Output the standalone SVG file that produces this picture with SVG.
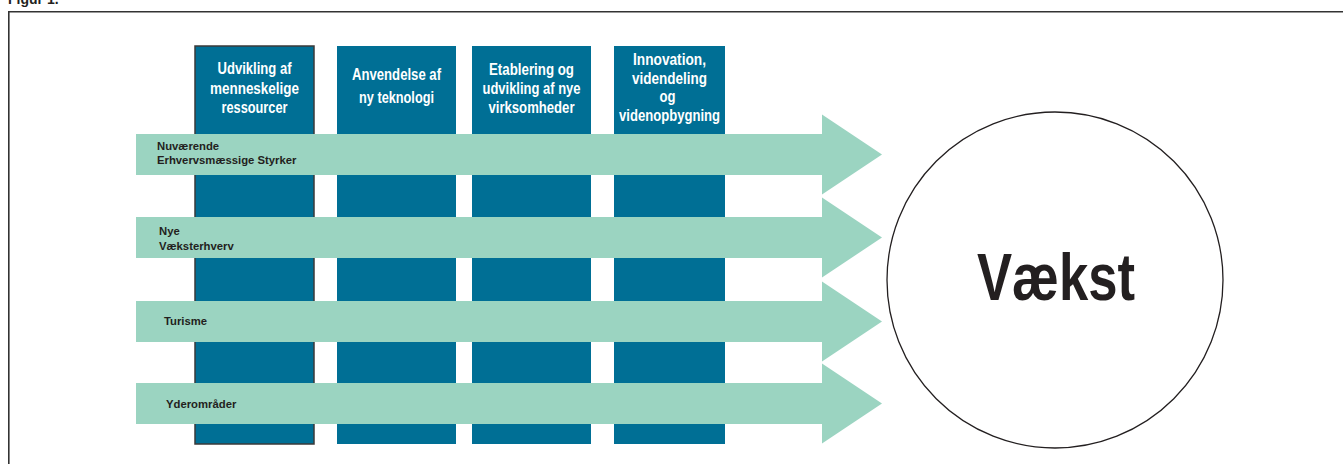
<svg xmlns="http://www.w3.org/2000/svg" width="1343" height="464" viewBox="0 0 1343 464">
<style>
.col{fill:#006f95}
.coltxt{font-family:"Liberation Sans Narrow","Liberation Sans",sans-serif;font-size:16px;font-weight:bold;fill:#ffffff;text-anchor:middle}
.arrow{fill:#9bd4c1}
.lbl{font-family:"Liberation Sans",Arial,sans-serif;font-size:11.3px;font-weight:bold;fill:#231f20}
.frame{fill:none;stroke:#333333;stroke-width:1.6}
</style>
<rect width="1343" height="464" fill="#ffffff"/>
<text x="8" y="4" style="font-family:'Liberation Sans',Arial,sans-serif;font-size:14px;font-weight:bold;fill:#231f20">Figur 1.</text>
<path class="frame" d="M8.8,470 V11.8 H1350"/>

<g id="col1">
<rect class="col" x="195" y="46" width="119" height="398" style="stroke:#3a3a3a;stroke-width:1.5"/>
<text class="coltxt"><tspan x="254.5" y="74" textLength="74" lengthAdjust="spacingAndGlyphs">Udvikling af</tspan><tspan x="254.5" y="93.5" textLength="89" lengthAdjust="spacingAndGlyphs">menneskelige</tspan><tspan x="254.5" y="113" textLength="66" lengthAdjust="spacingAndGlyphs">ressourcer</tspan></text>
</g>
<g id="col2">
<rect class="col" x="337" y="46" width="119" height="398"/>
<text class="coltxt"><tspan x="396.5" y="79.5" textLength="89" lengthAdjust="spacingAndGlyphs">Anvendelse af</tspan><tspan x="396.5" y="103" textLength="75" lengthAdjust="spacingAndGlyphs">ny teknologi</tspan></text>
</g>
<g id="col3">
<rect class="col" x="472" y="46" width="119" height="398"/>
<text class="coltxt"><tspan x="531.5" y="75" textLength="85" lengthAdjust="spacingAndGlyphs">Etablering og</tspan><tspan x="531.5" y="94" textLength="98" lengthAdjust="spacingAndGlyphs">udvikling af nye</tspan><tspan x="531.5" y="113" textLength="86" lengthAdjust="spacingAndGlyphs">virksomheder</tspan></text>
</g>
<g id="col4">
<rect class="col" x="614" y="46" width="111" height="398"/>
<text class="coltxt"><tspan x="669.5" y="65" textLength="73" lengthAdjust="spacingAndGlyphs">Innovation,</tspan><tspan x="669.5" y="83.5" textLength="75" lengthAdjust="spacingAndGlyphs">videndeling</tspan><tspan x="667.5" y="102" textLength="16" lengthAdjust="spacingAndGlyphs">og</tspan><tspan x="669.5" y="120.5" textLength="101" lengthAdjust="spacingAndGlyphs">videnopbygning</tspan></text>
</g>

<g id="connectors">
<g id="arrow1">
<polygon class="arrow" points="136,134 822,134 822,114.5 882,154.5 822,194.5 822,175 136,175"/>
<text class="lbl"><tspan x="157" y="150">Nuværende</tspan><tspan x="157" y="164">Erhvervsmæssige Styrker</tspan></text>
</g>
<g id="arrow2">
<polygon class="arrow" points="136,217 822,217 822,197.5 882,237.5 822,277.5 822,258 136,258"/>
<text class="lbl"><tspan x="159" y="235">Nye</tspan><tspan x="159" y="249.5">Væksterhverv</tspan></text>
</g>
<g id="arrow3">
<polygon class="arrow" points="136,301 822,301 822,281.5 882,321.5 822,361.5 822,342 136,342"/>
<text class="lbl" x="164" y="325">Turisme</text>
</g>
<g id="arrow4">
<polygon class="arrow" points="136,383 822,383 822,363.5 882,403.5 822,443.5 822,424 136,424"/>
<text class="lbl" x="166" y="408">Yderområder</text>
</g>
</g>

<g id="vaekst">
<circle cx="1055" cy="280" r="168" fill="#ffffff" stroke="#231f20" stroke-width="1.3"/>
<text x="977" y="300" textLength="158" lengthAdjust="spacingAndGlyphs" style="font-family:'Liberation Sans Narrow','Liberation Sans',sans-serif;font-size:66px;font-weight:bold;fill:#231f20">Vækst</text>
</g>
</svg>
